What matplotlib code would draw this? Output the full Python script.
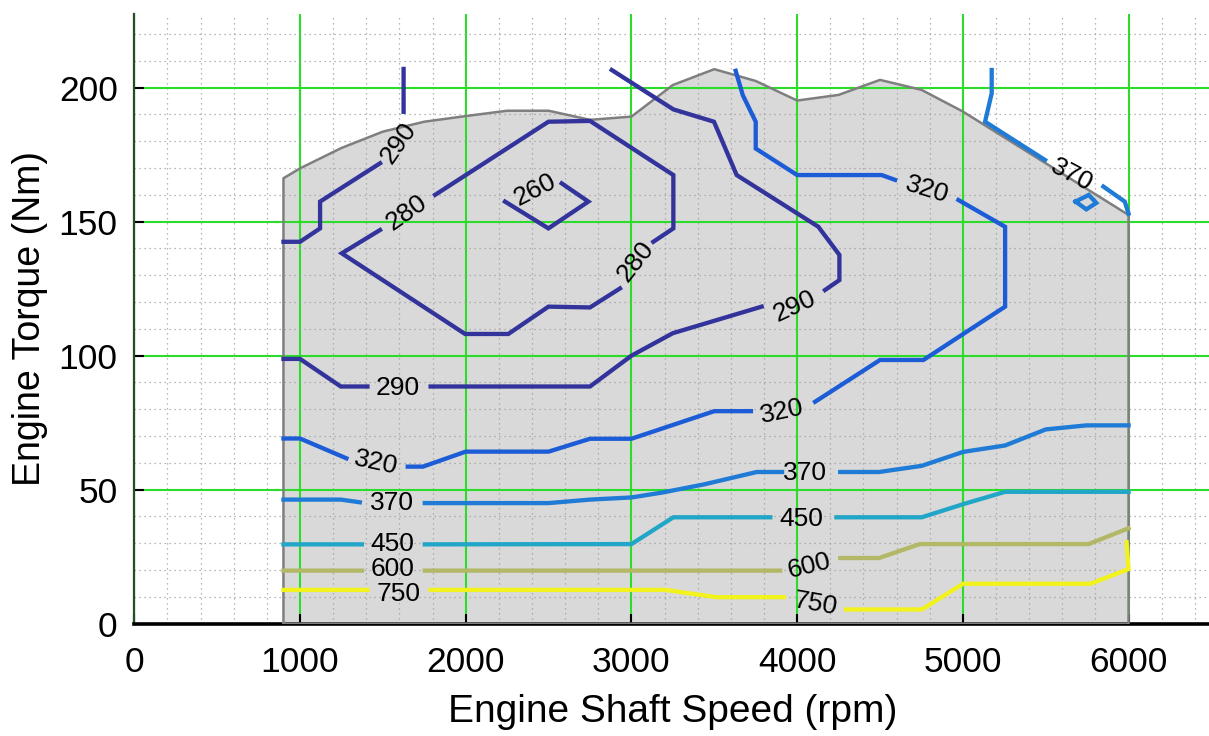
import numpy as np
import matplotlib.pyplot as plt
from matplotlib.ticker import MultipleLocator

plt.rcParams['font.family'] = ['Liberation Sans', 'DejaVu Sans']

# wide open throttle envelope (rpm, Nm)
env_x = [900, 1000, 1250, 1500, 1750, 2000, 2250, 2500, 2750, 3000, 3250, 3500,
         3750, 4000, 4250, 4500, 4750, 5000, 6000]
env_y = [166.2, 169.9, 177.5, 183.6, 187.3, 189.4, 191.4, 191.4, 188, 189.2, 201, 206.9,
         202.5, 195.2, 197.3, 202.9, 199.2, 191.1, 152.5]

# BSFC contour pieces (g/kWh); None splits a line where a label sits
c260_x = [2237, 2499, 2740, 2579]
c260_y = [157.5, 147.5, 157.5, 164.3]

c280_x = [1815, 2499, 2750, 3253, 3253, 3132, None,
          2931, 2750, 2499, 2257, 1996, 1252, 1483]
c280_y = [160, 187.3, 187.6, 167.4, 147.5, 142.5, None,
          125.1, 118, 118.3, 108.1, 108.1, 138.2, 146.9]

c290_x = [1625, 1625, None, 1483, 1121, 1121, 1000, 900, None,
          2881, 3253, 3498, 3635, 4128, 4255, 4255, 4168, None,
          3786, 3250, 3000, 2750, 1788, None,
          1407, 1246, 1000, 900]
c290_y = [207, 191, None, 171.8, 157.5, 147.5, 142.5, 142.5, None,
          206.6, 191.9, 187.3, 167.4, 148.1, 137.6, 128.2, 124.5, None,
          118.3, 108.4, 100, 88.5, 88.5, None,
          88.5, 88.5, 98.8, 98.8]

c320_x = [3629, 3672, 3750, 3750, 4000, 4510, 4591, None,
          4973, 5255, 5255, 4762, 4500, 4108, None,
          3721, 3500, 3000, 2750, 2500, 2000, 1742, 1650, None,
          1280, 1000, 900]
c320_y = [206.3, 197.2, 187.3, 177.3, 167.4, 167.4, 165.6, None,
          158.1, 148.1, 118.3, 98.4, 98.4, 82.8, None,
          79.3, 79.3, 69, 69, 64.2, 64.2, 58.6, 58.6, None,
          61.7, 69.1, 69.1]

c370_x = [5174, 5174, 5134, 5496, None, 5848, 5977, 6000, None,
          5680, 5760, 5805, 5745, 5680, None,
          900, 1246, 1361, None,
          1753, 2500, 2750, 3000, 3183, 3440, 3756, 3909, None,
          4260, 4494, 4752, 5002, 5255, 5501, 5747, 6000]
c370_y = [206.6, 197.9, 187.3, 173, None, 163.1, 157.5, 153, None,
          157.5, 160, 157, 154.6, 157.5, None,
          46.3, 46.3, 45.3, None,
          45, 45, 46.3, 47.1, 48.9, 52, 56.6, 56.6, None,
          56.6, 56.6, 58.9, 64.1, 66.5, 72.5, 74, 74]

c450_x = [900, 1373, None, 1753, 3000, 3253, 3838, None,
          4237, 4752, 5002, 5255, 6000]
c450_y = [29.6, 29.6, None, 29.6, 29.7, 39.7, 39.7, None,
          39.7, 39.7, 44.6, 49.2, 49.2]

c600_x = [900, 1373, None, 1753, 3897, None,
          4260, 4494, 4740, 5759, 6000]
c600_y = [19.8, 19.8, None, 19.8, 19.8, None,
          24.5, 24.5, 29.7, 29.7, 35.6]

c750_x = [900, 1407, None, 1788, 3206, 3511, 3920, None,
          4295, 4752, 5002, 5770, 6000, 5988]
c750_y = [12.6, 12.6, None, 12.6, 12.6, 9.9, 9.9, None,
          5.3, 5.3, 14.9, 14.9, 20.4, 30.4]

# inline labels
lab_text = ['260', '280', '280', '290', '290', '290', '320', '320', '320',
            '370', '370', '370', '450', '450', '600', '600', '750', '750']
lab_x = [2418, 1646, 3028, 1597, 3987, 1592, 4782, 3909, 1460,
         5657, 1557, 4049, 1557, 4026, 1557, 4073, 1592, 4108]
lab_y = [161.8, 153.3, 135.3, 179.3, 118.3, 87.8, 161.8, 79.3, 60,
         167.4, 45.2, 56.1, 29.8, 39, 20.4, 21.7, 11.0, 7.4]
lab_rot = [27, 35, 52, 55, 25, 0, -17, 12, -12,
           -28, 0, 0, 0, 0, 0, 14, 0, -10]

def arr(v):
    return np.array([np.nan if a is None else a for a in v], dtype=float)

fig = plt.figure(figsize=(12.09, 7.36), dpi=100)
ax = fig.add_axes([0.1111, 0.1526, 0.8909, 0.8284])

# shaded operating region
px = [900] + env_x + [6000]
py = [0] + env_y + [0]
ax.fill(px, py, facecolor='#d9d9d9', edgecolor='none', zorder=1)
ax.plot(px + [900], py + [0], color='#7f7f7f', lw=1.8, zorder=2.6)

lines = [(c260_x, c260_y, '#33339c'),
         (c280_x, c280_y, '#33339c'),
         (c290_x, c290_y, '#33339c'),
         (c320_x, c320_y, '#1c5cd6'),
         (c370_x, c370_y, '#1f7bd6'),
         (c450_x, c450_y, '#22a6c8'),
         (c600_x, c600_y, '#b3b866'),
         (c750_x, c750_y, '#f2f21c')]
for xs, ys, col in lines:
    ax.plot(arr(xs), arr(ys), color=col, lw=3.1, solid_joinstyle='miter', zorder=3)

for t, x, y, r in zip(lab_text, lab_x, lab_y, lab_rot):
    ax.text(x, y, t, rotation=r, ha='center', va='center', fontsize=19,
            rotation_mode='anchor', zorder=4)

ax.set_xlim(0, 6500)
ax.set_ylim(0, 227.5)
ax.xaxis.set_major_locator(MultipleLocator(1000))
ax.xaxis.set_minor_locator(MultipleLocator(200))
ax.yaxis.set_major_locator(MultipleLocator(50))
ax.yaxis.set_minor_locator(MultipleLocator(10))
ax.xaxis.set_ticks([0, 1000, 2000, 3000, 4000, 5000, 6000])

ax.grid(which='minor', color='#a0a0a0', lw=0.9, ls=(0, (1, 3)))
ax.grid(which='major', color='#2bdc2b', lw=1.5)

ax.tick_params(which='major', direction='in', length=7, width=1.5, labelsize=25.5)
ax.tick_params(axis='x', which='major', pad=16)
ax.tick_params(axis='y', which='major', pad=12)
ax.tick_params(which='minor', length=0)

for s in ['top', 'right']:
    ax.spines[s].set_visible(False)
ax.spines['left'].set_color('#264d26')
ax.spines['left'].set_linewidth(1.6)
ax.spines['bottom'].set_color('black')
ax.spines['bottom'].set_linewidth(2.6)

ax.set_xlabel('Engine Shaft Speed (rpm)', fontsize=28, labelpad=11)
ax.set_ylabel('Engine Torque (Nm)', fontsize=27, labelpad=8)

fig.savefig('out.png', dpi=100)
